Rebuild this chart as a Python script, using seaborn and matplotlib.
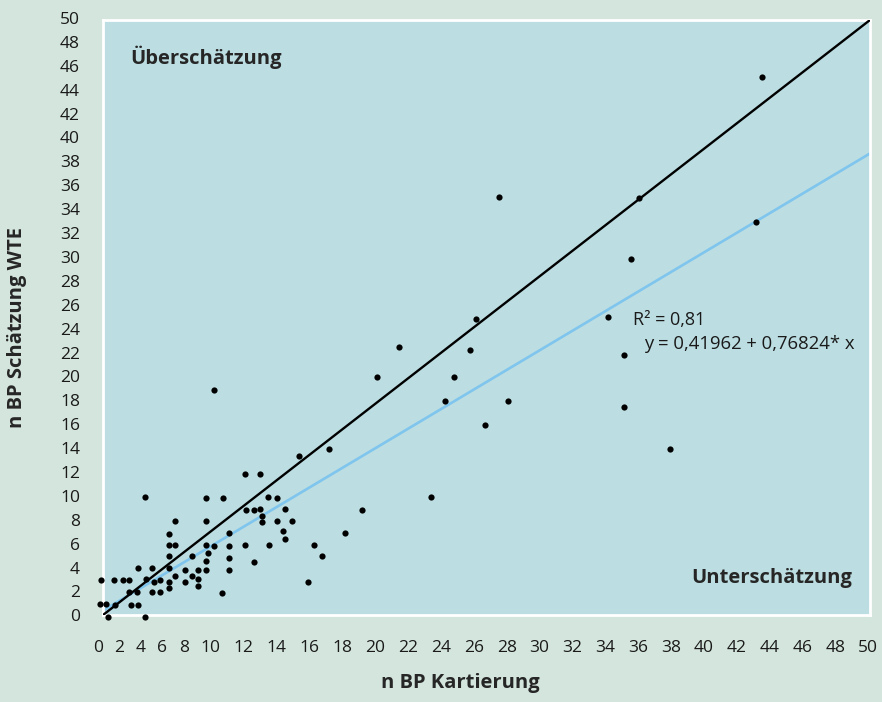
import numpy as np
import pandas as pd
import matplotlib
matplotlib.use("Agg")
import matplotlib.pyplot as plt
import matplotlib.transforms as mtransforms
import seaborn as sns

# Brutpaare: Kartierung (x) gegen Schätzung WTE (y)
kartierung = [2.9, 6.9, 8.0, 4.9, 6.9, 9.5, 4.5, 4.5, 4.9, 4.5,
              2.5, 3.4, 4.5, 4.9, 5.5, 6.0, 6.4, 6.9, 6.9, 6.9,
              7.0, 7.4, 8.4, 8.4, 8.4, 8.4, 9.4, 0.1, 0.9, 1.5,
              1.9, 3.0, 3.5, 3.9, 4.5, 4.5, 5.5, 6.0, 6.4, 6.4,
              7.9, 1.9, 2.4, 3.4, 3.9, 0.0, 0.4, 1.0, 2.0, 2.5,
              0.5, 2.9, 7.4, 9.4, 10.4, 12.9, 14.9, 10.9, 11.5, 10.0,
              10.4, 12.0, 10.5, 10.5, 11.5, 12.5, 18.0, 19.4, 23.0, 24.0,
              24.4, 22.4, 26.5, 25.0, 21.5, 35.0, 42.6, 34.5, 33.0, 34.0,
              34.0, 37.0, 43.0, 25.9, 17.0, 11.9, 12.0, 15.9, 11.0, 13.9,
              14.4, 10.0, 13.5]
schaetzung = [10.1, 10.0, 10.0, 8.1, 8.1, 9.0, 7.0, 6.1, 6.1, 5.1,
              4.1, 4.1, 4.1, 3.5, 4.0, 5.1, 4.0, 4.7, 4.0, 6.1,
              5.4, 6.0, 7.1, 6.0, 5.0, 4.0, 6.1, 3.1, 3.1, 3.1,
              3.1, 3.2, 3.0, 3.1, 3.0, 2.5, 3.0, 3.5, 3.2, 2.6,
              2.0, 2.1, 2.1, 2.1, 2.1, 1.1, 1.1, 1.0, 1.0, 1.0,
              0.0, 0.0, 19.0, 12.0, 12.0, 13.5, 14.1, 10.1, 10.0, 9.0,
              9.1, 9.1, 8.5, 8.0, 8.1, 8.1, 20.1, 22.6, 20.1, 22.4,
              25.0, 18.1, 18.1, 16.1, 10.1, 35.1, 33.1, 30.0, 25.1, 22.0,
              17.6, 14.1, 45.2, 35.2, 9.0, 7.2, 6.6, 7.1, 6.1, 6.1,
              5.1, 4.6, 3.0]

# Regression laut Grafik
intercept = 0.41962
slope = 0.76824
r2_label = "R² = 0,81"
fit_label = "y = 0,41962 + 0,76824* x"

line_x = [0, 50]
x_labels = [str(v) for v in range(0, 51, 2)]
y_labels = [str(v) for v in range(0, 51, 2)]

outer_bg = "#d3e5dc"
inner_bg = "#bcdee2"
fit_blue = "#7fc5ed"

sns.set_theme(style="white")
plt.rcParams['font.family'] = ['Open Sans', 'DejaVu Sans']

df = pd.DataFrame({"kartierung": kartierung, "schaetzung": schaetzung})
lines = pd.DataFrame({
    "x": line_x,
    "ident": line_x,
    "fit": [intercept + slope * v for v in line_x],
})

fig = plt.figure(figsize=(8.82, 7.02), dpi=100, facecolor=outer_bg)
ax = fig.add_axes([103 / 882, 87 / 702, 767 / 882, 595 / 702])
ax.set_facecolor(inner_bg)

sns.lineplot(data=lines, x="x", y="fit", ax=ax, color=fit_blue, linewidth=1.9,
             estimator=None, sort=False, zorder=2)
sns.lineplot(data=lines, x="x", y="ident", ax=ax, color="black", linewidth=1.7,
             estimator=None, sort=False, zorder=3)
sns.scatterplot(data=df, x="kartierung", y="schaetzung", ax=ax, color="black",
                s=20, linewidth=0, zorder=4, clip_on=False)

ax.set_xlim(0.2, 50)
ax.set_ylim(0.2, 50)
ax.set_xticks([])
ax.set_yticks([])
for side in ax.spines.values():
    side.set_color("white")
    side.set_linewidth(2)

# Achsenbeschriftung wie im Original gesetzt (einstellige Zahlen enger)
def label_positions(labels, start, char_w, gap):
    pos = [start]
    for prev, cur in zip(labels[:-1], labels[1:]):
        pos.append(pos[-1] + (len(prev) + len(cur)) / 2 * char_w + gap)
    return pos

tick_kw = dict(fontsize=12.5, color="#1a1a1a", clip_on=False)
trans_x = mtransforms.blended_transform_factory(ax.transData, ax.transAxes)
for pos, lab in zip(label_positions(x_labels, -0.125, 0.742, 0.65), x_labels):
    ax.text(pos, -0.055, lab, transform=trans_x, ha="center", va="center", **tick_kw)

trans_y = mtransforms.blended_transform_factory(ax.transAxes, ax.transData)
for lab in y_labels:
    ax.text(-0.03, float(lab), lab, transform=trans_y, ha="right", va="center", **tick_kw)

ax.set_xlabel("n BP Kartierung", fontsize=14.5, fontweight="bold")
ax.set_ylabel("n BP Schätzung WTE", fontsize=14.5, fontweight="bold")
ax.xaxis.set_label_coords(0.4654, -0.097)
ax.yaxis.set_label_coords(-0.099, 0.483)

ax.text(0.035, 0.938, "Überschätzung", transform=ax.transAxes, fontsize=14.5,
        fontweight="bold", ha="left", va="center")
ax.text(0.9765, 0.062, "Unterschätzung", transform=ax.transAxes, fontsize=14.5,
        fontweight="bold", ha="right", va="center")
ax.text(0.691, 0.496, r2_label, transform=ax.transAxes, fontsize=13,
        ha="left", va="center", color="#1a1a1a")
ax.text(0.705, 0.455, fit_label, transform=ax.transAxes, fontsize=13.3,
        ha="left", va="center", color="#1a1a1a")

fig.savefig("out.png", dpi=100, facecolor=outer_bg)
